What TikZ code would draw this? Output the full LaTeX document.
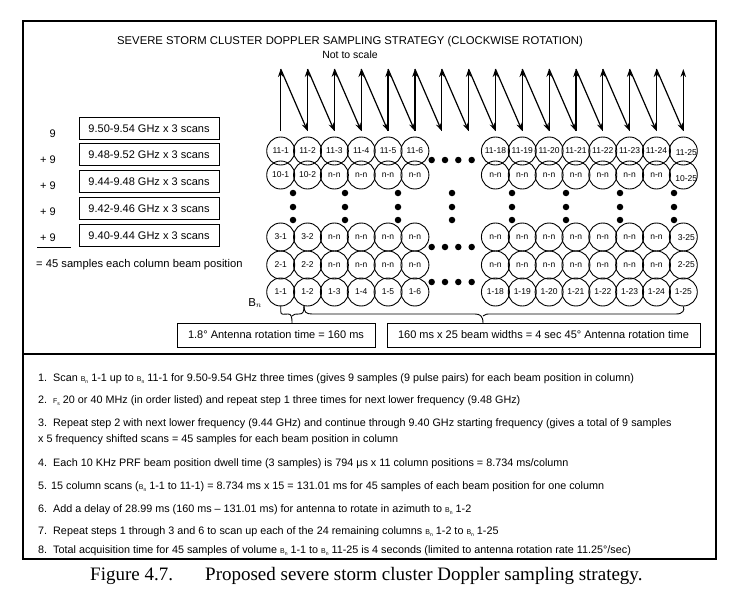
\documentclass[tikz,border=0pt]{standalone}
\usepackage{fontspec}
\setmainfont{Liberation Sans}
\newfontfamily\capfont{Liberation Serif}
\usetikzlibrary{arrows.meta}
\newcommand{\Bsub}{{\fontsize{7}{7}\selectfont B\raisebox{-1.5pt}{\fontsize{5}{5}\selectfont n}}}
\newcommand{\Fsub}{{\fontsize{7}{7}\selectfont F\raisebox{-1.5pt}{\fontsize{5}{5}\selectfont s}}}
\tikzset{
  beam/.style={circle, draw, line width=0.9pt, minimum size=28pt, inner sep=0pt, font=\fontsize{8.5}{8.5}\selectfont},
  beamlab/.style={inner sep=0pt, font=\fontsize{8.5}{8.5}\selectfont},
  freqbox/.style={draw, line width=0.9pt, minimum width=140pt, minimum height=22pt, inner sep=0pt, font=\fontsize{11}{11}\selectfont},
  timebox/.style={draw, line width=0.9pt, minimum height=24pt, inner sep=0pt, font=\fontsize{11}{11}\selectfont},
  dotm/.style={circle, fill, inner sep=0pt, minimum size=6.5pt},
  zig/.style={line width=1.2pt, -{Stealth[length=8pt,width=5.5pt]}},
  steptext/.style={anchor=west, inner sep=0pt, font=\fontsize{10.8}{10.8}\selectfont},
  frameline/.style={line width=1.6pt},
  bracel/.style={line width=0.9pt}
}
\begin{document}
\begin{tikzpicture}[x=1pt,y=-1pt]
\useasboundingbox (0,0) rectangle (739,605);
% frame
\draw[frameline] (23,21) rectangle (716,559);
\draw[frameline] (23,354) -- (716,354);
% title
\node[inner sep=0pt, font=\fontsize{11.3}{11.3}\selectfont] (title) at (350,42) {SEVERE STORM CLUSTER DOPPLER SAMPLING STRATEGY (CLOCKWISE ROTATION)};
\node[inner sep=0pt, font=\fontsize{10.5}{10.5}\selectfont] (nts) at (350,55) {Not to scale};
% zigzag arrows
\foreach \k in {0,...,15} {
  \coordinate (t\k) at ({280.7+26.84*\k},69);
  \coordinate (u\k) at ({280.7+26.84*\k},131);
}
\foreach \k in {0,...,15} { \draw[zig] (u\k) -- (t\k); }
\foreach \k [evaluate=\k as \kn using int(\k+1)] in {0,...,14} { \draw[zig] (t\k) -- (u\kn); }
% beam circles
\foreach \r/\yy in {11/151,10/175,3/237,2/265,1/292} {
  \foreach \i/\k in {1/0,2/1,3/2,4/3,5/4,6/5,18/8,19/9,20/10,21/11,22/12,23/13,24/14} {
    \def\lab{n-n}
    \ifnum\r=11 \def\lab{\r-\i}\fi
    \ifnum\r=1 \def\lab{\r-\i}\fi
    \ifnum\i<3 \def\lab{\r-\i}\fi
    \node[beam] (b\r x\i) at ({280.7+26.84*\k},\yy) {\lab};
  }
}
\node[beam] (b1x25) at ({280.7+26.84*15},292) {1-25};
\foreach \r/\yy/\dy in {11/151/2,10/175/4,3/237/1,2/265/0} {
  \node[beam] (b\r x25) at ({280.7+26.84*15},\yy) {};
  \node[beamlab] (l\r x25) at ([xshift=3pt,yshift=-\dy pt]b\r x25.center) {\r-25};
}
% vertical dots
\foreach \x in {293,345,398,452,512,566,620,674} {
  \foreach \y in {193,207,220} { \node[dotm] (dv\x x\y) at (\x,\y) {}; }
}
% horizontal dots
\foreach \x [count=\n] in {431.7,445,458.3,471.7} {
  \foreach \y in {160,247,282} { \node[dotm] (dh\n x\y) at (\x,\y) {}; }
}
% frequency boxes
\foreach \t/\y [count=\n] in {9.50-9.54/128.3, 9.48-9.52/154.7, 9.44-9.48/181.7, 9.42-9.46/208.8, 9.40-9.44/235.5} {
  \node[freqbox] (fb\n) at (149,\y) {\t\ GHz x 3 scans};
}
\node[anchor=east, inner sep=0pt, font=\fontsize{11}{11}\selectfont] (s1) at (56,134) {9};
\foreach \y [count=\n] in {160,186,212,238} {
  \node[anchor=east, inner sep=0pt, font=\fontsize{11}{11}\selectfont] (s\n p) at (56,\y) {+ 9};
}
\draw[line width=0.9pt] (37,247) -- (71,247);
\node[anchor=west, inner sep=0pt, font=\fontsize{11.2}{11.2}\selectfont] (sum) at (36,265) {= 45 samples each column beam position};
% Bn label and braces
\node[inner sep=0pt, font=\fontsize{11.5}{11.5}\selectfont] (bn) at (255,303) {B$_n$};
\node[timebox, minimum width=198pt] (tb1) at (276,335) {1.8° Antenna rotation time = 160 ms};
\node[timebox, minimum width=313pt] (tb2) at (543.5,335) {160 ms x 25 beam widths = 4 sec 45° Antenna rotation time};
\coordinate (sbtip) at (292,323);
\coordinate (lbtip) at (483,323);
\draw[bracel] (b1x1.south) ++(0,-1) -- ++(0,6) .. controls +(0,4) and +(-4,0) .. (288,314) .. controls (291,314) and (292,316) .. (sbtip);
\draw[bracel] (292,316) .. controls (293,314) and (296,314) .. (299,314) .. controls (303,314) and (304,312) .. (304,306);
\draw[bracel] (304,306) .. controls (304,312) and (306,314) .. (312,314) -- (475,314) .. controls (480,314) and (483,316) .. (lbtip);
\draw[bracel] (483,316) .. controls (485,314) and (487,314) .. (491,314) -- (676,314) .. controls (683,314) and (685,310) .. (b1x25.south);
% steps
\node[steptext] (l1) at (38,379) {1.\ \ Scan \Bsub\ 1-1 up to \Bsub\ 11-1 for 9.50-9.54 GHz three times (gives 9 samples (9 pulse pairs) for each beam position in column)};
\node[steptext] (l2) at (38,401) {2.\ \ \Fsub\ 20 or 40 MHz (in order listed) and repeat step 1 three times for next lower frequency (9.48 GHz)};
\node[steptext] (l3) at (38,424) {3.\ \ Repeat step 2 with next lower frequency (9.44 GHz) and continue through 9.40 GHz starting frequency (gives a total of 9 samples};
\node[steptext] (l3b) at (38,440) {x 5 frequency shifted scans = 45 samples for each beam position in column};
\node[steptext] (l4) at (38,464) {4.\ \ Each 10 KHz PRF beam position dwell time (3 samples) is 794 μs x 11 column positions = 8.734 ms/column};
\node[steptext] (l5) at (38,487) {5. 15 column scans (\Bsub\ 1-1 to 11-1) = 8.734 ms x 15 = 131.01 ms for 45 samples of each beam position for one column};
\node[steptext] (l6) at (38,510) {6.\ \ Add a delay of 28.99 ms (160 ms – 131.01 ms) for antenna to rotate in azimuth to \Bsub\ 1-2};
\node[steptext] (l7) at (38,532) {7.\ \ Repeat steps 1 through 3 and 6 to scan up each of the 24 remaining columns \Bsub\ 1-2 to \Bsub\ 1-25};
\node[steptext] (l8) at (38,551) {8.\ \ Total acquisition time for 45 samples of volume \Bsub\ 1-1 to \Bsub\ 11-25 is 4 seconds (limited to antenna rotation rate 11.25°/sec)};
% caption
\node[anchor=west, inner sep=0pt, font=\capfont\fontsize{19}{19}\selectfont] (cap1) at (90,576) {Figure 4.7.};
\node[anchor=west, inner sep=0pt, font=\capfont\fontsize{19}{19}\selectfont] (cap2) at (205,576) {Proposed severe storm cluster Doppler sampling strategy.};
\end{tikzpicture}
\end{document}
